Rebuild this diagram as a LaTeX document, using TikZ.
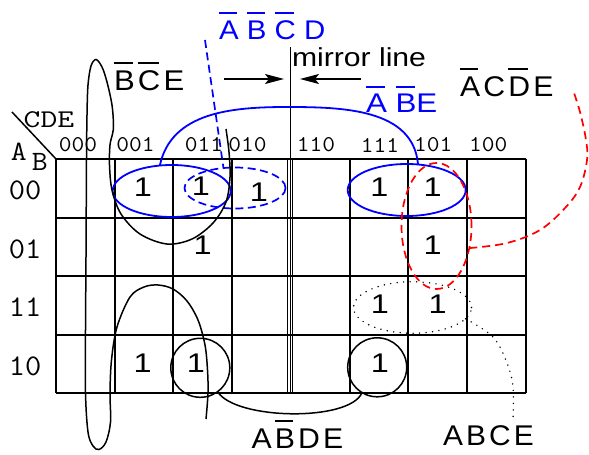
\documentclass[tikz,border=0pt]{standalone}
\usepackage{fontspec}
\usepackage{graphicx}
\setmainfont{Liberation Sans}
\usetikzlibrary{shapes.geometric,arrows.meta}
\newcommand\ob[1]{\setbox0=\hbox{#1}\rlap{\rule[0.92em]{\dimexpr\wd0-0.06em\relax}{0.075em}}\box0\relax}
\newcommand\hs[2]{\scalebox{#1}[1]{#2}}
\newcommand\gp{\kern3pt\relax}
\begin{document}
\begin{tikzpicture}[x=1pt,y=-1pt,
  kgrid/.style={line width=1.7pt},
  mgrid/.style={line width=1.1pt},
  kcurve/.style={line width=1.5pt},
  bcurve/.style={blue,line width=1.8pt},
  lbl/.style={inner sep=0pt,outer sep=0pt,anchor=base west,font=\fontsize{28.5}{28.5}\selectfont},
  blbl/.style={inner sep=0pt,outer sep=0pt,anchor=base west,blue,font=\fontsize{27}{27}\selectfont},
  one/.style={inner sep=0pt,outer sep=0pt,font=\fontsize{27}{27}\selectfont},
  collbl/.style={inner sep=0pt,outer sep=0pt,font=\fontsize{22.5}{22.5}\ttfamily},
  rowlbl/.style={inner sep=0pt,outer sep=0pt,font=\fontsize{30}{30}\ttfamily},
  ell/.style={ellipse,inner sep=0pt,outer sep=0pt},
  circ/.style={circle,draw,kcurve,inner sep=0pt,outer sep=0pt,minimum size=59pt},
  bdash/.style={blue,line width=1.7pt,dash pattern=on 8pt off 4.5pt},
  rdash/.style={red,line width=1.7pt,dash pattern=on 8pt off 5pt},
  kdot/.style={line width=1.6pt,line cap=round,dash pattern=on 0pt off 6.5pt},
  marrow/.style={line width=1.5pt,-{Stealth[length=19pt,width=10pt,inset=4pt]}}
]
\useasboundingbox (0,0) rectangle (589,455);

% grid
\foreach \y in {159,218,276,335,393} \draw[kgrid] (56,\y) -- (526,\y);
\foreach \x in {56,115,173,232,350,408,467,526} \draw[kgrid] (\x,159) -- (\x,393);
\draw[mgrid] (287.8,159) -- (287.8,393);
\draw[mgrid] (292.8,159) -- (292.8,393);
\draw[mgrid] (290.3,47) -- (290.3,393);
\draw[line width=1.5pt] (12,112) -- (56,159);

% axis labels
\node[inner sep=0pt,anchor=base west,font=\fontsize{25.5}{25.5}\ttfamily] (cde) at (23.5,127.5) {\hs{1.28}{CDE}};
\node[inner sep=0pt,anchor=base,font=\fontsize{28}{28}\ttfamily] (la) at (18.8,160) {\hs{1.1}{A}};
\node[inner sep=0pt,anchor=base,font=\fontsize{28}{28}\ttfamily] (lb) at (39.7,170) {\hs{1.1}{B}};

% column labels
\node[collbl] (c000) at (78,145) {\hs{1.1}{000}};
\node[collbl] (c001) at (135.5,145) {\hs{1.1}{001}};
\node[collbl] (c011) at (204,145) {\hs{1.1}{011}};
\node[collbl] (c010) at (247.5,145) {\hs{1.1}{010}};
\node[collbl] (c110) at (316,145) {\hs{1.1}{110}};
\node[collbl] (c111) at (380,145) {\hs{1.1}{111}};
\node[collbl] (c101) at (433.3,145) {\hs{1.1}{101}};
\node[collbl] (c100) at (488.3,145) {\hs{1.1}{100}};

% row labels
\node[rowlbl] (r00) at (25,190.5) {\hs{1.05}{00}};
\node[rowlbl] (r01) at (25,249.5) {\hs{1.05}{01}};
\node[rowlbl] (r11) at (25,307.5) {\hs{1.05}{11}};
\node[rowlbl] (r10) at (25,366) {\hs{1.05}{10}};

% cell values
\node[one] (v1) at (143,187) {\hs{1.2}{1}};
\node[one] (v2) at (201,186) {\hs{1.2}{1}};
\node[one] (v3) at (259,192) {\hs{1.2}{1}};
\node[one] (v4) at (379.3,187) {\hs{1.2}{1}};
\node[one] (v5) at (432.7,187) {\hs{1.2}{1}};
\node[one] (v6) at (202.7,245) {\hs{1.2}{1}};
\node[one] (v7) at (432.7,245) {\hs{1.2}{1}};
\node[one] (v8) at (380,304) {\hs{1.2}{1}};
\node[one] (v9) at (437.7,304) {\hs{1.2}{1}};
\node[one] (v10) at (142.7,363.3) {\hs{1.2}{1}};
\node[one] (v11) at (196,363.3) {\hs{1.2}{1}};
\node[one] (v12) at (380,363.3) {\hs{1.2}{1}};

% groupings
\node[ell,draw,bcurve,minimum width=118pt,minimum height=52pt] (g1) at (171.7,191) {};
\node[ell,draw,bdash,minimum width=101pt,minimum height=41pt] (g2) at (235,188) {};
\node[ell,draw,bcurve,minimum width=118pt,minimum height=52pt] (g3) at (406.7,190) {};
\node[ell,draw,rdash,minimum width=70pt,minimum height=126pt] (r1) at (436.5,226) {};
\node[ell,draw,kdot,minimum width=118pt,minimum height=51.5pt] (d1) at (412.5,307.5) {};
\node[circ] (k1) at (200.3,367.8) {};
\node[circ] (k2) at (377.2,367.3) {};

% labels
\node[lbl] (tbce) at (114,90.7) {\hs{1.09}{\ob{B}\gp\ob{C}\gp E}};
\node[blbl] (tabcd) at (219,39.3) {\hs{1.09}{\ob{A} \ob{B} \ob{C} D}};
\node[lbl,font=\fontsize{26}{26}\selectfont] (tml) at (292,66.7) {\hs{1.16}{mirror line}};
\node[blbl] (tabe) at (366,112.7) {\hs{1.16}{\ob{A} \ob{B}E}};
\node[lbl] (tacde) at (460,96.7) {\hs{1.06}{\ob{A}\gp C\gp\ob{D}\gp E}};
\node[lbl] (tabde) at (251.5,448.5) {\hs{1.06}{A\gp\ob{B}\gp D\gp E}};
\node[lbl] (tabce) at (443,445.7) {\hs{1.05}{A\gp B\gp C\gp E}};

% mirror arrows
\coordinate (a1s) at (224,79);
\coordinate (a1e) at (284,79);
\coordinate (a2s) at (361,79);
\coordinate (a2e) at (300,79);
\draw[marrow] (a1s) -- (a1e);
\draw[marrow] (a2s) -- (a2e);

% blue connectors
\coordinate (apex) at (287,107);
\draw[bcurve] (g1.115) to[out=78,in=180] (apex) to[out=0,in=95] (g3.66);
\coordinate (bd) at (205,40);
\draw[bdash] (bd) -- (g2.120);

% black long curve
\draw[kcurve] plot[smooth,tension=0.55] coordinates {
 (226,129) (229,152) (230,177) (226,202) (213,223) (192,239) (167,244)
 (140,234) (121,214) (112,190) (109.5,165) (110,145) (112.5,134) (113.5,125)
 (112,105) (107,82) (102,67) (96,59.5) (91,66) (88,85) (87,115) (86.5,160)
 (86,257) (85.5,330) (85.5,393) (88,432) (93,446) (99,449.5) (106,442)
 (110.5,422) (110,393) (111.5,360) (117,327) (130,297) (144,287) (158,285)
 (173,289) (187,301) (198,320) (205,345) (207.5,370) (208,393) (206,419)};

% A B' D E connector
\draw[kcurve] (k1.-54) .. controls (235,420) and (350,422) .. (k2.-121);

% red tail
\draw[rdash] plot[smooth,tension=0.6] coordinates {
 (r1.-34) (507,243) (540,230) (565,208) (580,187) (587,160) (586,140) (580,112) (573,90)};

% dotted tail
\draw[kdot] plot[smooth,tension=0.6] coordinates {
 (d1.-12) (493,337) (507,363) (513,387) (513,420)};
\end{tikzpicture}
\end{document}
